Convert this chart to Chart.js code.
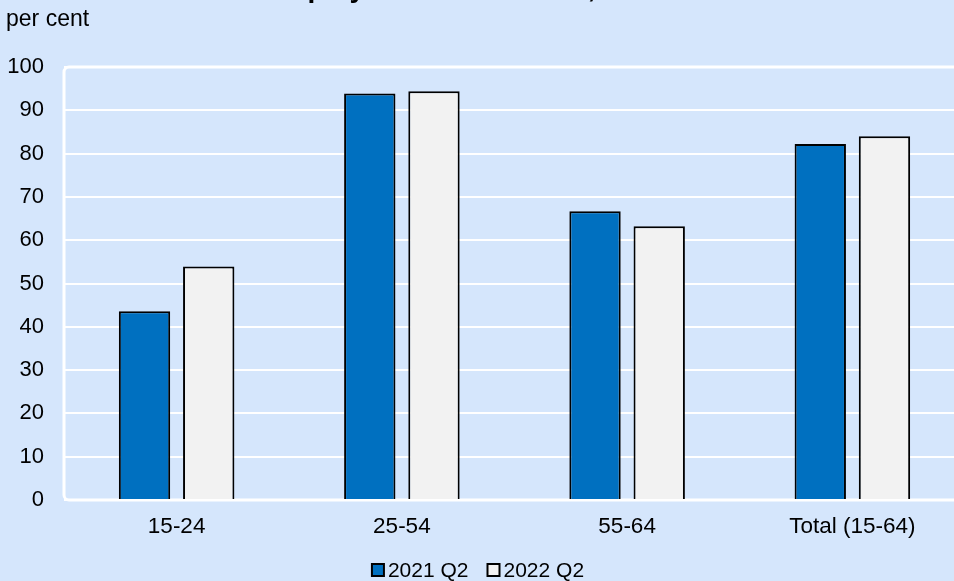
<!DOCTYPE html>
<html>
<head>
<meta charset="utf-8">
<script src="https://cdn.jsdelivr.net/npm/chart.js@4/dist/chart.umd.min.js"></script>
<style>
  html, body { margin: 0; padding: 0; overflow: hidden; background: #D5E6FC; }
  canvas { display: block; }
</style>
</head>
<body>
<canvas id="chart" width="965" height="581"></canvas>
<script>
// Employment rate by age group, per cent
const categories = ['15-24', '25-54', '55-64', 'Total (15-64)'];
const series2021 = [43.6, 93.9, 66.7, 82.2];
const series2022 = [53.9, 94.4, 63.2, 84.0];
const seriesLabels = ['2021 Q2', '2022 Q2'];
const yTicks = [0, 10, 20, 30, 40, 50, 60, 70, 80, 90, 100];

const BG = '#D5E6FC';
const FONT = '"Liberation Sans", Arial, sans-serif';

// Background, heading, unit label and the white plot frame
const decorations = {
  id: 'decorations',
  beforeDraw(chart) {
    const ctx = chart.ctx;
    ctx.save();
    ctx.fillStyle = BG;
    ctx.fillRect(0, 0, chart.width, chart.height);
    ctx.fillStyle = '#000';
    ctx.textBaseline = 'alphabetic';
    ctx.textAlign = 'left';
    ctx.font = 'bold 28px ' + FONT;
    ctx.fillText('Employment in Slovenia, 2021 and 2022', 264, -3);
    ctx.font = '23px ' + FONT;
    ctx.fillText('per cent', 6, 26);
    ctx.restore();
  },
  beforeDatasetsDraw(chart) {
    const { ctx, chartArea: a } = chart;
    const r = 5;
    ctx.save();
    ctx.strokeStyle = '#FFFFFF';
    ctx.lineWidth = 3;
    ctx.beginPath();
    ctx.moveTo(chart.width + 2, a.top);
    ctx.lineTo(a.left + r, a.top);
    ctx.arcTo(a.left, a.top, a.left, a.top + r, r);
    ctx.lineTo(a.left, a.bottom - r);
    ctx.arcTo(a.left, a.bottom, a.left + r, a.bottom, r);
    ctx.lineTo(chart.width + 2, a.bottom);
    ctx.stroke();
    ctx.restore();
  },
  afterDraw(chart) {
    // legend row below the axis
    const ctx = chart.ctx;
    ctx.save();
    ctx.font = '21px ' + FONT;
    ctx.textBaseline = 'middle';
    ctx.textAlign = 'left';
    const box = 12, gapText = 4, gapItem = 19, y = 570;
    const items = chart.data.datasets.map(d => ({ label: d.label, color: d.backgroundColor }));
    const widths = items.map(it => box + gapText + ctx.measureText(it.label).width);
    const total = widths.reduce((s, w) => s + w, 0) + gapItem * (items.length - 1);
    let x = 478 - total / 2;
    items.forEach((it, i) => {
      ctx.fillStyle = it.color;
      ctx.fillRect(x, y - box / 2, box, box);
      ctx.strokeStyle = '#000';
      ctx.lineWidth = 2;
      ctx.strokeRect(x, y - box / 2, box, box);
      ctx.fillStyle = '#000';
      ctx.fillText(it.label, x + box + gapText, y + 1);
      x += widths[i] + gapItem;
    });
    ctx.restore();
  }
};

new Chart(document.getElementById('chart'), {
  type: 'bar',
  data: {
    labels: categories,
    datasets: [
      { label: seriesLabels[0], data: series2021, backgroundColor: '#0070C0', borderColor: '#000', borderWidth: 2 },
      { label: seriesLabels[1], data: series2022, backgroundColor: '#F2F2F2', borderColor: '#000', borderWidth: 2 }
    ]
  },
  options: {
    responsive: false,
    animation: false,
    devicePixelRatio: 1,
    categoryPercentage: 0.57,
    barPercentage: 0.8,
    layout: { padding: { top: 67, bottom: 41, left: 0, right: 0 } },
    plugins: {
      legend: { display: false },
      title: { display: false },
      tooltip: { enabled: false }
    },
    scales: {
      x: {
        grid: { display: false, drawTicks: false },
        border: { display: false },
        ticks: { color: '#000', font: { family: FONT, size: 22.5 }, padding: 13, maxRotation: 0 },
        afterFit(s) { s.height = 40; }
      },
      y: {
        min: 0,
        max: 100,
        afterBuildTicks(s) { s.ticks = yTicks.map(v => ({ value: v })); },
        grid: { color: '#FFFFFF', lineWidth: 2, drawTicks: false },
        border: { display: false },
        ticks: { color: '#000', font: { family: FONT, size: 22 }, padding: 20 },
        afterFit(s) { s.width = 64; }
      }
    }
  },
  plugins: [decorations]
});
</script>
</body>
</html>
